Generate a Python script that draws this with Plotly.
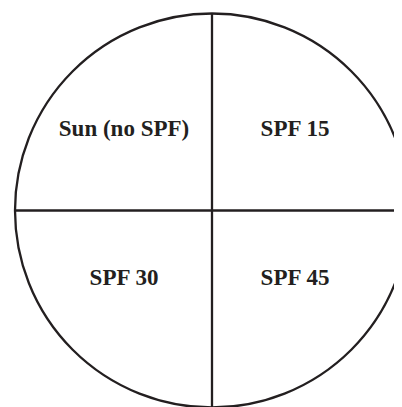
import plotly.graph_objects as go

# Quadrant labels (top-left, top-right, bottom-left, bottom-right)
labels = ["Sun (no SPF)", "SPF 15", "SPF 30", "SPF 45"]
label_col = [-1, 1, -1, 1]   # -1 = left half, 1 = right half
label_row = [-1, -1, 1, 1]   # -1 = upper half, 1 = lower half

W, H = 402, 407
PAD = 8   # page body margin; axes are mapped so data units = window pixels
cx, cy, r = 212, 210.5, 197
ink = "#231f20"

fig = go.Figure()

xs = [cx + (-88 if c < 0 else 83) for c in label_col]
ys = [cy + (-80 if rw < 0 else 69) for rw in label_row]

fig.add_trace(go.Scatter(
    x=xs, y=ys, mode="text", text=labels,
    textfont=dict(family="Liberation Serif", size=23, color=ink, weight="bold"),
    textposition="middle center", hoverinfo="skip", showlegend=False,
))

lw = 2.3
fig.add_shape(type="circle", xref="x", yref="y",
              x0=cx - r, x1=cx + r, y0=cy - r, y1=cy + r,
              line=dict(color=ink, width=lw))
fig.add_shape(type="line", xref="x", yref="y",
              x0=cx, x1=cx, y0=cy - r, y1=cy + r,
              line=dict(color=ink, width=lw))
fig.add_shape(type="line", xref="x", yref="y",
              x0=cx - r, x1=cx + r, y0=cy, y1=cy,
              line=dict(color=ink, width=lw))

fig.update_layout(
    width=W - PAD, height=H - PAD, margin=dict(l=0, r=0, t=0, b=0),
    paper_bgcolor="white", plot_bgcolor="white",
    xaxis=dict(range=[PAD, W], visible=False, fixedrange=True),
    yaxis=dict(range=[H, PAD], visible=False, fixedrange=True),
)

fig.write_html("out.html")
